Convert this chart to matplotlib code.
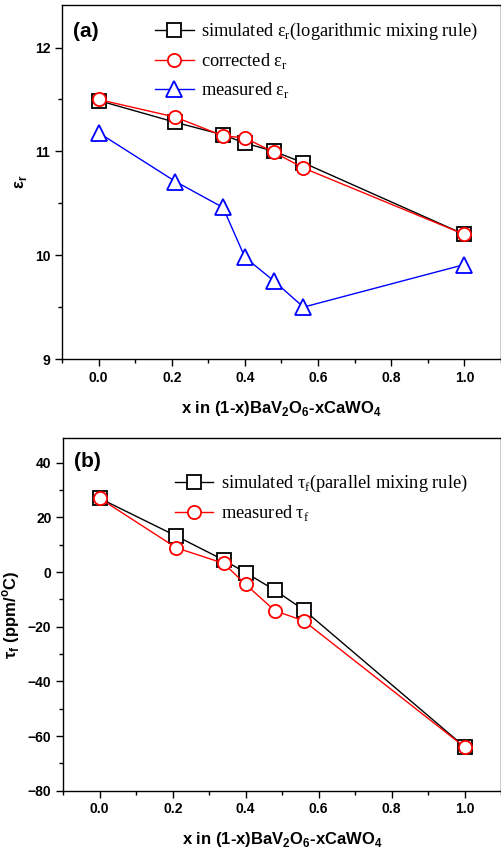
import matplotlib
matplotlib.use("Agg")
import matplotlib.pyplot as plt
from matplotlib.ticker import MultipleLocator

plt.rcParams['font.family'] = ['Liberation Sans', 'DejaVu Sans']
plt.rcParams['mathtext.fontset'] = 'custom'
plt.rcParams['mathtext.rm'] = 'Liberation Sans'
plt.rcParams['mathtext.bf'] = 'Liberation Sans:bold'

# ---- data ----
x = [0.0, 0.21, 0.34, 0.40, 0.48, 0.56, 1.0]
eps_simulated = [11.49, 11.28, 11.16, 11.08, 11.00, 10.89, 10.20]
eps_corrected = [11.50, 11.33, 11.15, 11.13, 10.99, 10.84, 10.20]
eps_measured = [11.18, 10.71, 10.46, 9.98, 9.75, 9.50, 9.91]

tau_simulated = [27.0, 13.2, 4.4, -0.2, -6.6, -13.9, -63.9]
tau_measured = [27.0, 8.9, 3.2, -4.5, -14.1, -17.9, -64.0]

xticks = [0.0, 0.2, 0.4, 0.6, 0.8, 1.0]
eps_ticks = [9, 10, 11, 12]
tau_ticks = [-80, -60, -40, -20, 0, 20, 40]

fig = plt.figure(figsize=(5.02, 8.5), dpi=100)
ax1 = fig.add_axes([0.1235, 0.5776, 0.8745, 0.4165])
ax2 = fig.add_axes([0.126, 0.0698, 0.872, 0.4146])

mk = dict(markersize=9.5, markerfacecolor='white', markeredgewidth=1.3, linewidth=1.0)
leg_font = {'family': 'Liberation Serif', 'size': 13.2}

ax1.plot(x, eps_simulated, color='black', marker='s',
         label='simulated ε$_\\mathregular{r}$(logarithmic mixing rule)', **mk)
ax1.plot(x, eps_corrected, color='red', marker='o',
         label='corrected ε$_\\mathregular{r}$', **mk)
ax1.plot(x, eps_measured, color='blue', marker='^', markersize=11, markerfacecolor='white',
         markeredgewidth=1.3, linewidth=1.0, label='measured ε$_\\mathregular{r}$')

ax2.plot(x, tau_simulated, color='black', marker='s',
         label='simulated τ$_\\mathregular{f}$(parallel mixing rule)', **mk)
ax2.plot(x, tau_measured, color='red', marker='o',
         label='measured τ$_\\mathregular{f}$', **mk)

ax1.set_xlim(-0.1, 1.1)
ax1.set_ylim(9, 12.41)
ax1.set_yticks(eps_ticks)
ax1.yaxis.set_minor_locator(MultipleLocator(0.5))
ax1.set_ylabel('ε$_\\mathbf{r}$', fontsize=12, fontweight='bold')

ax2.set_xlim(-0.1, 1.1)
ax2.set_ylim(-80, 49)
ax2.set_yticks(tau_ticks)
ax2.yaxis.set_minor_locator(MultipleLocator(10))
ax2.set_ylabel('τ$_\\mathbf{f}$ (ppm/$^\\mathbf{o}$C)', fontsize=12, fontweight='bold')

for ax, lab, ly in ((ax1, '(a)', 0.924), (ax2, '(b)', 0.934)):
    ax.set_xticks(xticks)
    ax.set_xticklabels([f'{t:.1f}' for t in xticks])
    ax.xaxis.set_minor_locator(MultipleLocator(0.1))
    ax.tick_params(which='major', direction='out', length=5, width=1, labelsize=10)
    ax.tick_params(which='minor', direction='out', length=3, width=1)
    ax.tick_params(top=False, right=False)
    for t in ax.get_xticklabels() + ax.get_yticklabels():
        t.set_fontweight('bold')
    for s in ax.spines.values():
        s.set_linewidth(1.0)
    ax.set_xlabel('x in (1-x)BaV$_\\mathbf{2}$O$_\\mathbf{6}$-xCaWO$_\\mathbf{4}$',
                  fontsize=12, fontweight='bold', labelpad=10)
    ax.text(0.025, ly, lab, transform=ax.transAxes,
            fontsize=15, fontweight='bold', va='center', ha='left')

leg_kw = dict(loc='upper left', frameon=False, prop=leg_font, handlelength=2.1,
              handletextpad=0.4, labelspacing=0.5, borderaxespad=0.0, borderpad=0.0)
ax1.legend(bbox_to_anchor=(0.212, 0.955), **leg_kw)
ax2.legend(bbox_to_anchor=(0.255, 0.9015), **leg_kw)

fig.savefig('out.png', dpi=100)
